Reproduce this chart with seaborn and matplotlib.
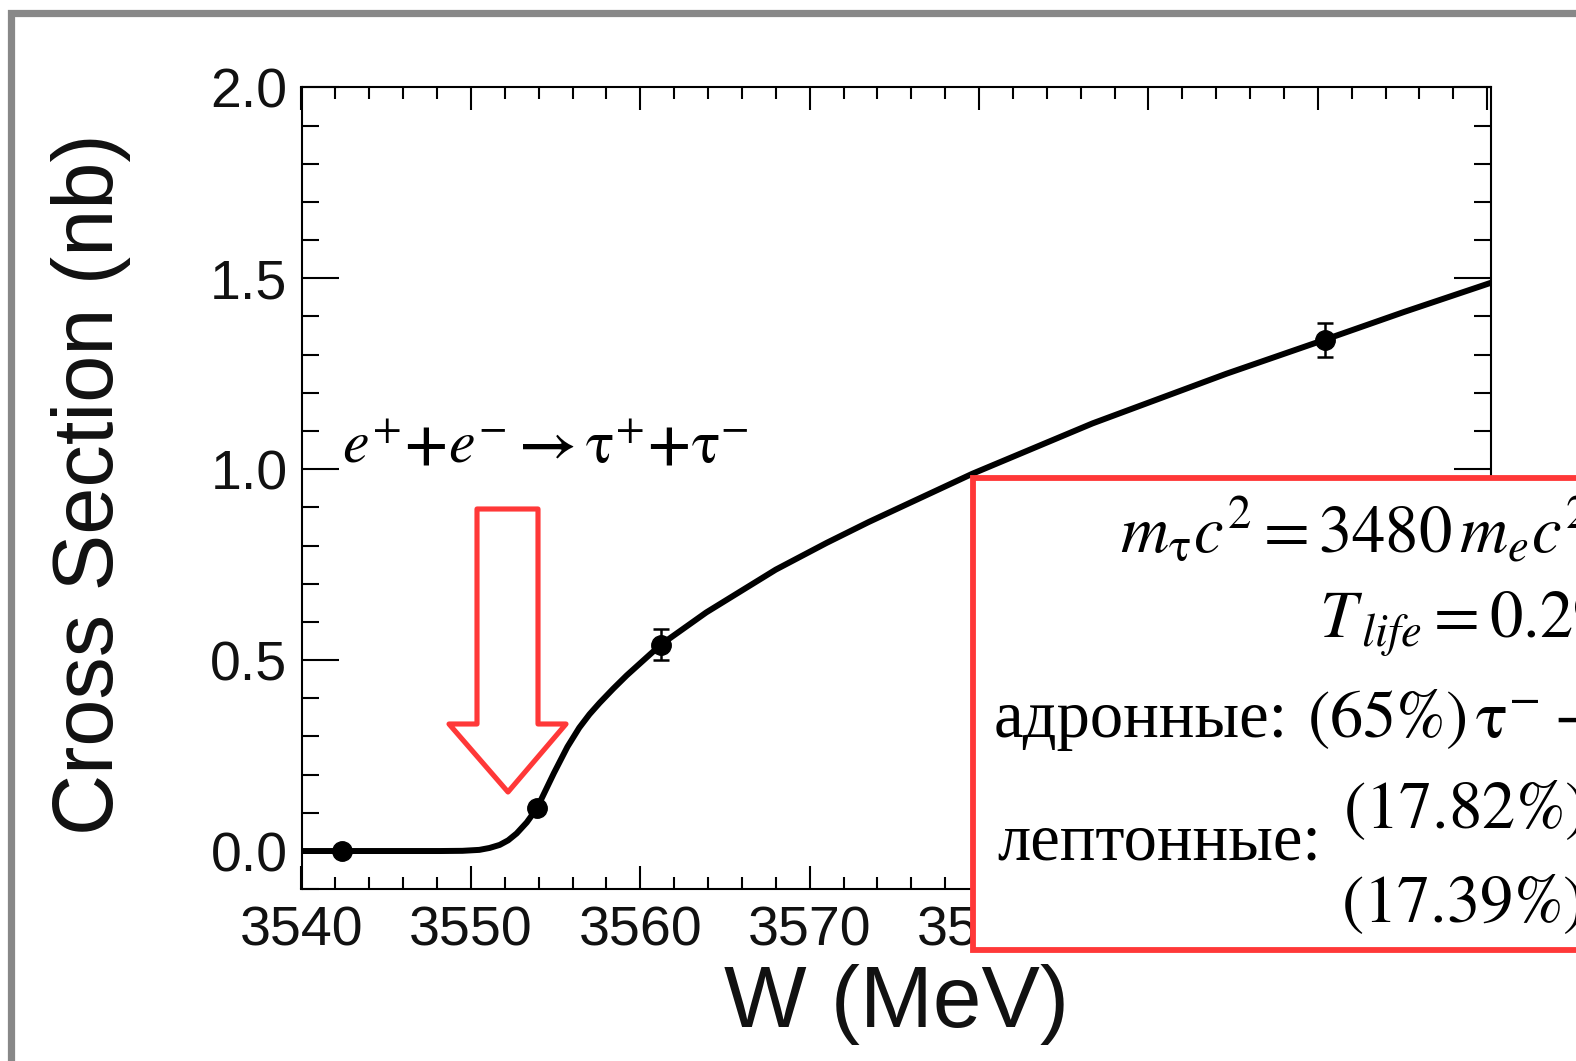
import matplotlib
matplotlib.use('Agg')
import matplotlib.pyplot as plt
import seaborn as sns
from matplotlib.patches import Rectangle, Polygon
from matplotlib.ticker import MultipleLocator

# ---- data ----
curve_w = [3540.0, 3544.0, 3548.2, 3549.5, 3550.5, 3551.1, 3551.7, 3552.2,
           3552.7, 3553.3, 3553.9, 3554.9, 3555.7, 3556.4, 3557.0, 3557.6,
           3558.4, 3559.2, 3560.2, 3561.2, 3563.9, 3568.0, 3571.0, 3573.5,
           3579.6, 3586.7, 3594.6, 3600.4, 3605.1, 3610.2]
curve_sigma = [0.0, 0.0, 0.0, 0.0005, 0.003, 0.008, 0.016, 0.028,
               0.046, 0.075, 0.112, 0.204, 0.273, 0.323, 0.358, 0.388,
               0.425, 0.46, 0.50, 0.54, 0.625, 0.737, 0.807, 0.862,
               0.988, 1.12, 1.25, 1.339, 1.412, 1.488]
data_w = [3542.4, 3553.9, 3561.2, 3600.4]
data_sigma = [0.0, 0.112, 0.54, 1.339]
data_err = [0.01, 0.01, 0.041, 0.045]
x_ticks = [3540, 3550, 3560, 3570, 3580, 3590, 3600, 3610]
y_ticks = [0.0, 0.5, 1.0, 1.5, 2.0]
y_ticklabels = ['0.0', '0.5', '1.0', '1.5', '2.0']
x_label = 'W (MeV)'
y_label = 'Cross Section (nb)'
reaction = r'$e^{+}\mathbf{+}e^{-}\mathbf{\rightarrow}\mathrm{\tau}^{+}\mathbf{+}\mathrm{\tau}^{-}$'
line_mass = r'$m_{\mathrm{\tau}}c^{2}=3480\,m_{e}c^{2}$'
line_life = r'$T_{\,life}=0.29\cdot10^{-12}$ с'
hadr_label = 'адронные:'
hadr_formula = r'$(65\%)\,\mathrm{\tau}^{-}\rightarrow\nu_{\mathrm{\tau}}$ + адроны'
lept_label = 'лептонные:'
lept_formula_1 = r'$(17.82\%)\,\mathrm{\tau}^{-}\rightarrow e^{-}\bar{\nu}_{e}\nu_{\mathrm{\tau}}$'
lept_formula_2 = r'$(17.39\%)\,\mathrm{\tau}^{-}\rightarrow \mu^{-}\bar{\nu}_{\mu}\nu_{\mathrm{\tau}}$'

# ---- style ----
sns.set_theme(style='ticks')
plt.rcParams['font.family'] = ['Liberation Sans', 'DejaVu Sans']
plt.rcParams['mathtext.fontset'] = 'stix'

W, H = 1576, 1061
fig = plt.figure(figsize=(W / 100, H / 100), dpi=100)
fig.patch.set_facecolor('white')


def fx(px):
    return px / W


def fy(py):
    return 1 - py / H


ax_l, ax_r, ax_t, ax_b = 301.5, 1490.6, 87.4, 889.2
ax = fig.add_axes([fx(ax_l), fy(ax_b), (ax_r - ax_l) / W, (ax_b - ax_t) / H])
ax.set_facecolor('white')

sns.lineplot(x=curve_w, y=curve_sigma, ax=ax, color='black', lw=4.3,
             solid_joinstyle='round', zorder=3)
ax.errorbar(data_w, data_sigma, yerr=data_err, fmt='o', color='black',
            ms=14, capsize=6, elinewidth=1.8, capthick=1.8, zorder=4)

ax.set_xlim(3540, 3610.2)
ax.set_ylim(-0.1, 2.0)
ax.set_xticks(x_ticks)
ax.set_xticklabels([str(t) for t in x_ticks])
ax.set_yticks(y_ticks)
ax.set_yticklabels(y_ticklabels)
ax.xaxis.set_minor_locator(MultipleLocator(2))
ax.yaxis.set_minor_locator(MultipleLocator(0.1))
ax.tick_params(which='both', direction='in', top=True, right=True,
               width=1.5, color='black', labelcolor='#111111', labelsize=40)
ax.tick_params(axis='y', which='major', length=26.5, pad=10)
ax.tick_params(axis='y', which='minor', length=12.2)
ax.tick_params(axis='x', which='major', length=16.5, pad=12)
ax.tick_params(axis='x', which='minor', length=8.6)
for s in ax.spines.values():
    s.set_linewidth(1.5)
    s.set_color('black')

ax.set_xlabel(x_label, fontsize=63, color='#111111')
ax.set_ylabel(y_label, fontsize=61, color='#111111')
ax.xaxis.set_label_coords(0.5, -0.093)
ax.yaxis.set_label_coords(-0.143, 0.505)

# reaction label
fig.text(fx(342), fy(463), reaction, fontsize=43, color='black',
         ha='left', va='baseline')

# hollow red arrow
arrow_px = [(477, 509), (538, 509), (538, 724), (566, 724), (508, 792),
            (449, 724), (477, 724)]
arrow = Polygon([(fx(x), fy(y)) for x, y in arrow_px], closed=True,
                transform=fig.transFigure, fill=False, ec='#FF3838', lw=3.7,
                joinstyle='round', zorder=6)
fig.add_artist(arrow)

# gray slide frame
frame = Rectangle((fx(10.5), -0.2), 1.3, fy(12.7) + 0.2, transform=fig.transFigure,
                  fill=False, ec='#888888', lw=5.2, zorder=1)
fig.add_artist(frame)

# red info box
box = Rectangle((fx(973), fy(950)), 1.0, (950 - 478) / H, transform=fig.transFigure,
                fc='white', ec='#FF3838', lw=4.2, zorder=10)
fig.add_artist(box)

serif = ['Liberation Serif', 'DejaVu Serif']
tkw = dict(fontsize=48, color='black', ha='left', va='baseline', zorder=11,
           family=serif)
fig.text(fx(1120), fy(553), line_mass, **tkw)
fig.text(fx(1319), fy(638), line_life, **tkw)
fig.text(fx(994), fy(737), hadr_label, **tkw)
fig.text(fx(1307), fy(737), hadr_formula, **tkw)
fig.text(fx(997), fy(860), lept_label, **tkw)
fig.text(fx(1343), fy(828), lept_formula_1, **tkw)
fig.text(fx(1341), fy(923), lept_formula_2, **tkw)

fig.savefig('out.png', dpi=100, facecolor='white')
